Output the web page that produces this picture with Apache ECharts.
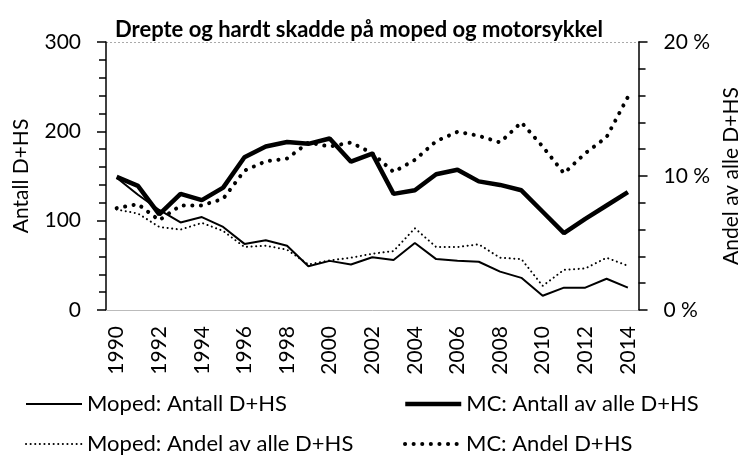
<!DOCTYPE html>
<html>
<head>
<meta charset="utf-8">
<script src="https://cdn.jsdelivr.net/npm/echarts@6/dist/echarts.min.js"></script>
<style>
  html, body { margin: 0; padding: 0; background: #fff; }
  #chart { width: 750px; height: 455px; }
</style>
</head>
<body>
<div id="chart"></div>
<script>
// years on the category axis
const years = []
for (let y = 1990; y <= 2014; y++) years.push(String(y))

// antall drepte + hardt skadde (venstre akse)
const mopedAntall = [148, 129, 112, 98, 104, 93, 74, 78, 72, 49, 55, 51, 59, 56, 75, 57, 55, 54, 43, 36, 16, 25, 25, 35, 25]
const mcAntall = [149, 139, 107, 130, 123, 137, 171, 183, 188, 186, 192, 166, 175, 130, 134, 152, 157, 144, 140, 134, 110, 86, 102, 117, 132]

// andel av alle D+HS i prosent (høyre akse)
const mopedAndel = [7.5, 7.2, 6.2, 6.0, 6.5, 5.9, 4.7, 4.8, 4.5, 3.4, 3.7, 3.9, 4.2, 4.4, 6.1, 4.7, 4.7, 4.9, 3.9, 3.8, 1.8, 3.0, 3.1, 3.9, 3.3]
const mcAndel = [7.6, 7.9, 6.7, 7.8, 7.8, 8.3, 10.4, 11.1, 11.3, 12.5, 12.2, 12.5, 11.7, 10.3, 11.2, 12.6, 13.3, 13.0, 12.5, 14.0, 12.2, 10.2, 11.7, 12.9, 15.9]

const FONT = 'Lato'

const chart = echarts.init(document.getElementById('chart'))

// one legend per item so each sits where the reference puts it
const legendItem = (name, left, top, lineWidth) => ({
  left: left, top: top, orient: 'horizontal',
  itemWidth: 56, itemHeight: 12, itemGap: 0,
  itemStyle: { opacity: 0 },
  lineStyle: { width: lineWidth },
  textStyle: { fontFamily: FONT, fontSize: 22, color: '#000' },
  data: [name]
})

const option = {
  animation: false,
  textStyle: { fontFamily: FONT, color: '#000' },
  title: {
    text: 'Drepte og hardt skadde på moped og motorsykkel',
    left: 110,
    top: 14,
    textStyle: { fontFamily: FONT, fontSize: 22, fontWeight: 'bold', color: '#000' }
  },
  grid: { left: 106, right: 103, top: 42, bottom: 145 },
  legend: [
    legendItem('Moped: Antall D+HS', 20, 388, 2),
    legendItem('Moped: Andel av alle D+HS', 20, 428, 2),
    legendItem('MC: Antall av alle D+HS', 398, 388, 4.5),
    legendItem('MC: Andel D+HS', 398, 428, 4)
  ],
  xAxis: {
    type: 'category',
    data: years,
    boundaryGap: true,
    axisLine: { lineStyle: { color: '#bbb', width: 1 } },
    axisTick: { show: false },
    axisLabel: {
      interval: 1, rotate: 90, fontSize: 21, color: '#000', margin: 16
    }
  },
  yAxis: [
    {
      type: 'value', min: 0, max: 300, interval: 100,
      name: 'Antall D+HS', nameLocation: 'middle', nameGap: 74,
      nameTextStyle: { fontSize: 21, color: '#000' },
      axisLine: { show: true, lineStyle: { color: '#000', width: 1.5 } },
      axisTick: { show: true, length: 9, lineStyle: { color: '#000', width: 1.5 } },
      minorTick: { show: true, splitNumber: 5, length: 7, lineStyle: { color: '#000', width: 1.5 } },
      splitLine: { show: false },
      axisLabel: { fontSize: 21, color: '#000', margin: 25 }
    },
    {
      type: 'value', min: 0, max: 20, interval: 10, position: 'right',
      name: 'Andel av alle D+HS', nameLocation: 'middle', nameGap: 82,
      nameTextStyle: { fontSize: 21, color: '#000' },
      axisLine: { show: true, lineStyle: { color: '#000', width: 1.5 } },
      axisTick: { show: true, length: 9, lineStyle: { color: '#000', width: 1.5 } },
      minorTick: { show: true, splitNumber: 5, length: 7, lineStyle: { color: '#000', width: 1.5 } },
      splitLine: { show: false },
      axisLabel: { fontSize: 21, color: '#000', margin: 25, formatter: v => v + ' %' }
    },
    {
      // only used for the dotted lines at top and bottom of the plot
      type: 'value', min: 0, max: 1, interval: 1, show: true,
      axisLine: { show: false }, axisTick: { show: false }, axisLabel: { show: false },
      splitLine: { show: true, lineStyle: { color: '#aaa', type: [2, 2], width: 1 } }
    }
  ],
  series: [
    {
      name: 'Moped: Antall D+HS', type: 'line', yAxisIndex: 0,
      data: mopedAntall, symbol: 'none', z: 4,
      lineStyle: { color: '#000', width: 2 }, itemStyle: { color: '#000' }
    },
    {
      name: 'MC: Antall av alle D+HS', type: 'line', yAxisIndex: 0,
      data: mcAntall, symbol: 'none', z: 5,
      lineStyle: { color: '#000', width: 4.5 }, itemStyle: { color: '#000' }
    },
    {
      name: 'Moped: Andel av alle D+HS', type: 'line', yAxisIndex: 1,
      data: mopedAndel, symbol: 'none', z: 3,
      lineStyle: { color: '#000', width: 2, type: [0.1, 4.5], cap: 'round' },
      itemStyle: { color: '#000' }
    },
    {
      name: 'MC: Andel D+HS', type: 'line', yAxisIndex: 1,
      data: mcAndel, symbol: 'none', z: 3,
      lineStyle: { color: '#000', width: 4, type: [0.1, 8.5], cap: 'round' },
      itemStyle: { color: '#000' }
    }
  ]
}

chart.setOption(option)
</script>
</body>
</html>
